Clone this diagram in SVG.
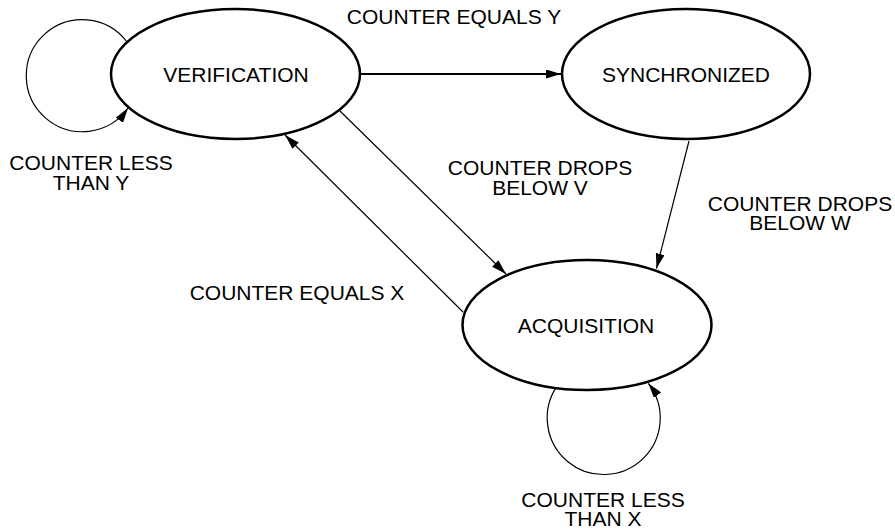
<svg xmlns="http://www.w3.org/2000/svg" width="895" height="529" viewBox="0 0 895 529">
<style>
  .node { fill: #ffffff; stroke: #000000; stroke-width: 2.5; }
  .label { font-family: "Liberation Sans", Arial, sans-serif; font-size: 21px; fill: #000000; text-anchor: middle; }
  .edge { fill: none; stroke: #000000; stroke-width: 1.2; marker-end: url(#arrow); }
  .edge-thick { fill: none; stroke: #000000; stroke-width: 2.2; marker-end: url(#arrow); }
</style>
<defs>
  <marker id="arrow" markerUnits="userSpaceOnUse" markerWidth="16" markerHeight="9" refX="15" refY="4.5" orient="auto">
    <path d="M0,0 L15,4.5 L0,9 z" fill="#000000"/>
  </marker>
</defs>
<rect width="895" height="529" fill="#ffffff"/>
<g id="connectors">
  <path class="edge-thick" d="M360,74 L561,74"/>
  <path class="edge" d="M340,111 L506,274"/>
  <path class="edge" d="M463,312 L285,135"/>
  <path class="edge" d="M689,141 L656.5,268.5"/>
  <path class="edge" d="M127,42 A56,56 0 1 0 128,108"/>
  <path class="edge" d="M556.7,386.7 A56.5,56.5 0 1 0 648.3,383.3"/>
</g>
<g id="verification">
  <ellipse class="node" cx="235.5" cy="74" rx="124.5" ry="65"/>
  <text class="label" x="236" y="81.5">VERIFICATION</text>
</g>
<g id="synchronized">
  <ellipse class="node" cx="686" cy="74" rx="124" ry="65"/>
  <text class="label" x="686" y="81.5">SYNCHRONIZED</text>
</g>
<g id="acquisition">
  <ellipse class="node" cx="587" cy="325" rx="124.5" ry="65"/>
  <text class="label" x="586" y="333">ACQUISITION</text>
</g>
<g id="edge-labels">
  <text class="label" x="454" y="24">COUNTER EQUALS Y</text>
  <text class="label" x="540" y="175">COUNTER DROPS</text>
  <text class="label" x="540" y="195">BELOW V</text>
  <text class="label" x="800" y="210.5">COUNTER DROPS</text>
  <text class="label" x="800" y="230">BELOW W</text>
  <text class="label" x="91" y="170">COUNTER LESS</text>
  <text class="label" x="91" y="190">THAN Y</text>
  <text class="label" x="297" y="300">COUNTER EQUALS X</text>
  <text class="label" x="603" y="507">COUNTER LESS</text>
  <text class="label" x="603" y="526">THAN X</text>
</g>
</svg>
